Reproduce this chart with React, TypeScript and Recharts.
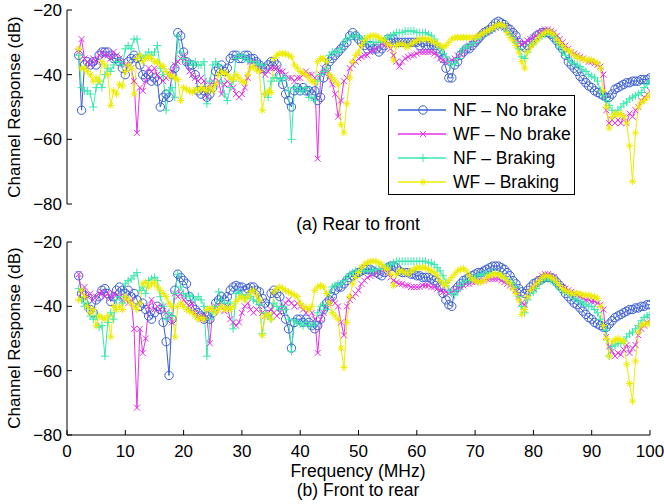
import { Line, LineChart, XAxis, YAxis } from "recharts";

// Frequency grid: 2 MHz to 100 MHz, 0.5 MHz step
const FREQ_START = 2;
const FREQ_STEP = 0.5;

const X_TICKS = [0, 10, 20, 30, 40, 50, 60, 70, 80, 90, 100];
const Y_TICKS = [-80, -60, -40, -20];

// (a) Rear to front
const rearNfNoBrake = [
  -34, -51, -37, -36, -37, -36, -37, -34, -33, -33, -33, -34, -35, -35, -36, -38,
  -40, -36, -35, -34, -35, -37, -40, -41, -40, -42, -41, -42, -50, -47, -46, -47, -40, -38, -27, -28,
  -33, -36, -37, -37, -40, -45, -46, -45, -47, -46, -44, -39, -38, -37, -39, -38, -35, -34, -34, -35,
  -35, -34, -34, -35, -35, -36, -37, -38, -38, -37, -36, -36, -37, -40, -43, -46, -48, -50, -45, -44,
  -45, -44, -45, -45, -46, -45, -48, -47, -41, -38, -36, -35, -34, -33, -32, -31, -30, -28, -27, -28,
  -29, -30, -31, -32, -31, -32, -32, -33, -32, -31, -29, -29, -29, -30, -30, -30, -30, -30, -30, -30,
  -30, -31, -30, -31, -31, -31, -31, -32, -33, -35, -38, -41, -41, -37, -36, -34, -33, -32, -32, -31,
  -30, -29, -28, -27, -26.5, -26, -25, -24, -23.5, -24, -24.5, -25.5, -26, -27, -28, -30, -31, -31.5, -31, -30,
  -29, -28, -27.5, -27, -27, -27, -27.5, -28.5, -29.5, -31, -32, -34, -36, -37, -38, -39, -40.5, -41.5, -42.5, -43.5,
  -44, -45, -45.5, -46, -46.5, -47, -47, -46, -44.5, -44, -43.5, -43, -42.5, -42.5, -42, -42, -42, -41.5, -41.5, -41.5,
  -41,
];
const rearWfNoBrake = [
  -33, -29, -35, -36, -37, -35, -36, -34, -33, -34, -34, -35, -33, -34, -35, -36,
  -37, -37, -38, -42, -58, -44, -45, -42, -38, -39, -38, -40, -41, -42, -41, -40, -39, -37, -36, -35,
  -34, -36, -39, -40, -41, -42, -41, -42, -47, -43, -42, -43, -42, -46, -43, -42, -43, -44, -46, -47,
  -46, -44, -41, -36, -36, -37, -38, -39, -40, -39, -38, -38, -38, -39, -39, -40, -41, -41, -42, -41,
  -41, -40, -39, -40, -40, -41, -66, -40, -38, -39, -41, -43, -46, -53, -48, -42, -41, -38, -37, -36,
  -35, -34.5, -34, -34, -33, -32.5, -32, -31, -30.5, -30.5, -31, -32, -34, -36, -37.5, -36, -35, -34.5, -34, -34,
  -33.5, -33, -33, -33, -33, -33, -33.5, -34, -35, -35.5, -36, -36, -35.5, -35, -34, -33.5, -33, -32, -31, -30.5,
  -30, -29, -28, -27.5, -27, -26.5, -26, -25.5, -25, -25, -25.5, -26, -27, -28, -29, -30, -30.5, -30, -29.5, -29,
  -28.5, -28, -27, -26.5, -26, -26, -26.5, -27, -28, -29, -30, -31, -32, -33, -33.5, -34, -34.5, -35, -35.5, -36,
  -36, -36.5, -37, -37.5, -40, -51, -55, -54, -55, -54, -55, -53, -55, -52, -53, -51, -50, -48, -47, -46,
  -45,
];
const rearNfBraking = [
  -34, -44, -45, -45, -46, -50, -44, -42, -44, -40, -38, -39, -37, -36, -36, -37,
  -32, -31, -32, -29, -29, -34, -35, -34, -33, -34, -33, -31, -38, -40, -51, -45, -44, -47, -28, -33,
  -35, -36, -36, -37, -36, -37, -37, -36, -49, -42, -37, -36, -37, -42, -46, -48, -44, -42, -35, -34,
  -34, -35, -35.5, -36, -36, -36.5, -37, -37, -46, -47, -42, -41, -41, -42, -41, -41, -45, -60, -44, -44,
  -45, -45, -44, -47, -47, -48, -42, -40, -39, -38, -34, -33, -33, -33, -32, -30, -29, -28.5, -28, -28,
  -28, -29, -29, -30, -30, -30, -30, -30, -29.5, -29, -28.5, -28, -27.5, -27, -27, -27, -26.5, -26.5, -26.5, -26.5,
  -27, -27, -27, -27, -27.5, -28, -29, -30.5, -32, -33.5, -34.5, -36, -37, -36.5, -35, -33, -32, -31.5, -31, -30.5,
  -30, -29, -28, -27.5, -27, -26.5, -26, -25.5, -25, -25, -25.5, -26.5, -27.5, -28.5, -30, -32, -34.5, -35, -33, -31,
  -30.5, -29.5, -28.5, -28, -27.5, -27, -27.5, -28.5, -30, -31.5, -33, -34, -35, -36, -36.5, -37, -37.5, -38.5, -39, -40,
  -40.5, -41, -42, -45, -46.5, -48, -49.5, -51, -52, -51, -50, -49, -48.5, -47.5, -47, -46.5, -46, -45.5, -44, -43,
  -42,
];
const rearWfBraking = [
  -32, -38, -38, -39, -40, -42, -41, -42, -36, -37, -40, -49.5, -45, -46, -43, -43.5,
  -39, -37, -38, -46, -35, -34, -36, -35, -34.5, -35, -36, -36, -37, -37.5, -39, -40, -40.5, -41, -41.5, -48,
  -44, -44.5, -45, -45.5, -44.5, -45, -44, -44.5, -45, -44, -45, -43, -40, -39, -39.5, -40, -41, -41.5, -40, -41,
  -42, -42.5, -40, -38, -37.5, -38.5, -39, -51, -46, -45, -45.5, -35, -34, -33.5, -33.5, -33.5, -34, -34.5, -37, -38,
  -39, -39.5, -40, -41, -42, -42.5, -36, -35, -35, -36, -40, -41, -42, -43, -55.5, -58, -49, -41, -36, -34,
  -33, -31, -29.5, -28.5, -28, -28, -28, -28.5, -29, -29.5, -30.5, -31, -35.5, -31, -30.5, -30.5, -31, -31.5, -30.5, -30,
  -29.5, -29, -29, -29, -29, -29.5, -30, -30.5, -31, -31.5, -31, -30, -29, -28.5, -28.5, -28.5, -28.5, -28.5, -28.5, -28.5,
  -28.5, -28, -27.5, -27, -26.5, -26, -25.5, -25, -24.5, -24.5, -25, -27, -28.5, -29.5, -31, -33, -36, -38, -33, -31.5,
  -30.5, -29.5, -28.5, -27.5, -27, -26.5, -27, -27.5, -29, -30, -31, -32, -32.5, -33, -34, -34.5, -35, -35, -35.5, -35.5,
  -35.5, -36, -36.5, -38, -45, -50, -56.5, -53, -52, -52.5, -52, -53, -55, -62, -73, -58, -50, -48.5, -48, -47,
  -46,
];

// (b) Front to rear
const frontNfNoBrake = [
  -30.5, -36, -36.5, -38, -41, -42, -38, -37, -35, -34.5, -36, -38.5, -37, -35, -34, -35,
  -36, -35, -37, -36, -38, -40, -39, -41, -43, -44, -42, -40, -41, -45, -51, -61.5, -44, -35, -30, -31,
  -32, -33, -37, -40, -41, -42, -43, -44, -43, -44, -42, -39, -38, -37, -38, -37, -35, -34, -33.5, -34,
  -34, -35, -34.5, -34, -34, -35, -35.5, -37.5, -39, -40, -36, -35, -36, -37, -41, -44, -47, -53, -45, -44,
  -44, -45, -44, -45, -46, -47, -46, -44, -41, -39, -38, -37, -35, -34, -34, -33, -32, -31, -30.5, -30,
  -29.5, -29, -28.5, -28.5, -28.5, -29, -29.5, -30, -30.5, -29.5, -28, -27.5, -27.5, -28, -29, -29.5, -29.5, -29.5, -30, -30,
  -30.5, -30.5, -31, -31, -31, -31.5, -32, -32.5, -34, -36, -38, -39.5, -40, -35, -34, -33, -32, -31.5, -31, -30.5,
  -30, -29.5, -29.5, -29, -28.5, -28, -27.5, -27.5, -27.5, -28, -28.5, -29.5, -30.5, -32, -33, -34.5, -35.5, -36, -35, -34,
  -33, -32.5, -32, -31.5, -31, -31, -31, -31.5, -32.5, -33.5, -34.5, -36, -37, -38, -39, -39.5, -40.5, -41.5, -42.5, -43.5,
  -44, -45, -45.5, -46, -46.5, -46.5, -45.5, -44.5, -43.5, -43, -42.5, -42, -41.5, -41, -41, -40.5, -40.5, -40, -40, -39.5,
  -39.5,
];
const frontWfNoBrake = [
  -30, -36, -34, -37, -36, -38, -37, -36, -35.5, -37, -36, -37.5, -36, -36.5, -37, -38,
  -37, -39, -38, -47, -71.5, -47, -54.5, -50, -40, -38, -41, -40, -41, -40, -42, -43, -45, -36, -37, -36,
  -38, -39, -40, -39, -42, -43, -44, -43, -44, -51.5, -41, -40, -41, -40, -41.5, -40, -44, -45, -46, -45,
  -42, -40, -39, -41, -42, -41, -40, -42, -43, -42, -41, -42, -43, -42, -40, -39, -38, -39, -40, -39,
  -40, -41, -42, -41, -42, -44, -54.5, -44, -42, -40, -39, -38, -39, -40, -45, -49, -40, -38, -37, -36,
  -35, -33, -32, -31, -30.5, -30, -29.5, -29, -28.5, -28.5, -29.5, -31, -32, -32.5, -33, -33, -33.5, -33.5, -34, -34,
  -34, -34, -33.5, -33.5, -33.5, -34, -34, -34.5, -35, -35.5, -35.5, -36, -35.5, -35, -34.5, -34, -33.5, -33, -33, -32.5,
  -32.5, -32, -32, -32, -31.5, -31.5, -31.5, -31.5, -31.5, -32, -32.5, -33, -33.5, -34, -35, -37, -39, -39.5, -37, -35.5,
  -34.5, -33, -31.5, -30.5, -30, -30, -30.5, -31, -32.5, -33.5, -34, -34.5, -35, -35.5, -36, -36.5, -37, -37.5, -38, -38,
  -38.5, -38.5, -39, -39.5, -41, -49.5, -52.5, -54, -55.5, -54.5, -55, -53.5, -52, -54.5, -53, -52, -49, -47, -46, -45,
  -44,
];
const frontNfBraking = [
  -34.5, -38, -40, -39, -43, -44, -43, -46.5, -46, -55.5, -45, -42, -44, -38, -37, -39,
  -33, -32, -31.5, -30.5, -29.5, -35, -34, -36, -32, -31.5, -31, -32, -37, -40, -44, -42, -43, -36, -30, -34,
  -36, -37, -36.5, -37, -38, -37, -38, -40, -55.5, -44, -42, -40, -35.5, -38, -39, -40, -39, -47, -36, -35.5,
  -36.5, -37.5, -36.5, -37, -38, -38.5, -39.5, -48.5, -42, -43, -44, -39, -40, -41, -40, -41, -44, -54, -44.5, -45,
  -45.5, -46, -45, -46, -46, -45.5, -42, -40, -39.5, -41, -36, -34, -33.5, -33, -33, -32, -31, -30, -29.5, -29,
  -29, -29, -29, -29, -29, -29, -28.5, -28.5, -28.5, -28, -27.5, -27, -26.5, -26, -26, -26, -26, -26, -26, -26,
  -26, -26, -26, -26, -26.5, -26.5, -27, -28, -29, -30.5, -32.5, -35, -36, -36.5, -35, -33.5, -32.5, -32, -32, -31.5,
  -31, -30.5, -30, -30, -30, -29.5, -29.5, -29.5, -30, -30.5, -31, -32, -32.5, -33, -34, -37, -40, -42, -38, -36,
  -35.5, -34.5, -33, -32, -31.5, -31.5, -32, -32.5, -33.5, -34.5, -35, -35.5, -36, -36.5, -37.5, -38, -38.5, -39, -39.5, -40,
  -40, -41, -42, -44, -46, -47.5, -55.5, -52.5, -52, -51.5, -51.5, -51, -49.5, -48.5, -48, -47, -46, -44.5, -43.5, -43,
  -42.5,
];
const frontWfBraking = [
  -38, -35, -37, -40, -42, -41, -46, -43, -43.5, -44, -43, -49.5, -40, -41, -40, -41,
  -37, -38, -39, -40, -41, -39, -33, -32.5, -34, -33, -32.5, -34, -35, -36, -37, -39, -40, -49.5, -40, -39,
  -40, -41, -41.5, -42, -43, -44, -43.5, -44, -41, -40.5, -41, -42, -41, -40, -41, -40.5, -41, -40, -38.5, -37.5,
  -37, -38, -37, -35.5, -35, -36.5, -38, -49, -43, -42.5, -44, -35.5, -34.5, -34, -34.5, -35, -35.5, -36, -36.5, -37,
  -39, -40, -40.5, -41, -40, -35, -34, -33.5, -34, -36, -39, -42, -43, -44, -53, -59, -45, -37, -33, -31,
  -29.5, -28, -27, -26.5, -26, -26, -26, -26.5, -27, -28, -28.5, -30, -33.5, -30, -29, -29, -29.5, -30, -29, -28.5,
  -28, -28, -28, -28, -28.5, -29, -29.5, -30.5, -32, -33, -33.5, -32, -31, -30, -29, -28.5, -28.3, -29, -30.5, -31.5,
  -32, -32.5, -32.5, -32, -31, -30.5, -30, -30, -30, -30.5, -31, -32, -33, -34.5, -36, -38, -42.5, -41, -37, -35,
  -34, -33, -32, -31, -30.5, -30.5, -31, -31.5, -32.5, -33.5, -34.5, -35, -35.5, -36, -36, -36, -36, -36.5, -36.5, -36.5,
  -37, -37, -37.5, -40, -46, -50, -55.5, -51, -50.5, -50, -50.5, -51, -58, -64, -69.5, -57, -48, -46, -45.5, -45.5,
  -45,
];

const freqs = rearNfNoBrake.map((_, i) => FREQ_START + i * FREQ_STEP);

type MarkerKind = "circle" | "x" | "plus" | "star";

const SERIES: { key: string; name: string; color: string; marker: MarkerKind }[] = [
  { key: "nfNo", name: "NF \u2013 No brake", color: "#3b5fd4", marker: "circle" },
  { key: "wfNo", name: "WF \u2013 No brake", color: "#e632e6", marker: "x" },
  { key: "nfBr", name: "NF \u2013 Braking", color: "#3ae8ad", marker: "plus" },
  { key: "wfBr", name: "WF \u2013 Braking", color: "#ecec00", marker: "star" },
];

const buildRows = (nfNo: number[], wfNo: number[], nfBr: number[], wfBr: number[]) =>
  freqs.map((f, i) => ({ f, nfNo: nfNo[i], wfNo: wfNo[i], nfBr: nfBr[i], wfBr: wfBr[i] }));

const rearRows = buildRows(rearNfNoBrake, rearWfNoBrake, rearNfBraking, rearWfBraking);
const frontRows = buildRows(frontNfNoBrake, frontWfNoBrake, frontNfBraking, frontWfBraking);

const FONT = "'Liberation Sans', Arial, Helvetica, sans-serif";
const minus = (v: number) => String(v).replace("-", "\u2212");

function Marker({ kind, cx, cy, color }: { kind: MarkerKind; cx: number; cy: number; color: string }) {
  if (kind === "circle") {
    return <circle cx={cx} cy={cy} r={4.2} fill="none" stroke={color} strokeWidth={1} />;
  }
  if (kind === "x") {
    const d = 3;
    return (
      <path
        d={`M${cx - d},${cy - d}L${cx + d},${cy + d}M${cx - d},${cy + d}L${cx + d},${cy - d}`}
        stroke={color}
        strokeWidth={1}
      />
    );
  }
  if (kind === "plus") {
    const d = 4;
    return <path d={`M${cx - d},${cy}L${cx + d},${cy}M${cx},${cy - d}L${cx},${cy + d}`} stroke={color} strokeWidth={1} />;
  }
  const d = 3.6;
  const e = 2.6;
  return (
    <path
      d={`M${cx - d},${cy}L${cx + d},${cy}M${cx},${cy - d}L${cx},${cy + d}M${cx - e},${cy - e}L${cx + e},${cy + e}M${cx - e},${cy + e}L${cx + e},${cy - e}`}
      stroke={color}
      strokeWidth={1}
    />
  );
}

const makeDot = (kind: MarkerKind, color: string) => (props: any) => {
  const { cx, cy, index } = props;
  if (cx == null || cy == null) return <g key={`none-${index}`} />;
  return <Marker key={`dot-${index}`} kind={kind} cx={cx} cy={cy} color={color} />;
};

const TICK_LEN = 5;

function BottomTick({ x, y, payload, showLabel }: any) {
  return (
    <g>
      <line x1={x} y1={y} x2={x} y2={y - TICK_LEN} stroke="#000" />
      {showLabel ? (
        <text x={x} y={y + 22} textAnchor="middle" fontSize={17} fill="#000" fontFamily={FONT}>
          {payload.value}
        </text>
      ) : null}
    </g>
  );
}

function TopTick({ x, y }: any) {
  return <line x1={x} y1={y} x2={x} y2={y + TICK_LEN} stroke="#000" />;
}

function LeftTick({ x, y, payload }: any) {
  return (
    <g>
      <line x1={x} y1={y} x2={x + TICK_LEN} y2={y} stroke="#000" />
      <text x={x - 5} y={y + 6} textAnchor="end" fontSize={17} fill="#000" fontFamily={FONT}>
        {minus(payload.value)}
      </text>
    </g>
  );
}

function RightTick({ x, y }: any) {
  return <line x1={x} y1={y} x2={x - TICK_LEN} y2={y} stroke="#000" />;
}

function Panel({ data, top, height, showXLabels }: { data: any[]; top: number; height: number; showXLabels: boolean }) {
  return (
    <div style={{ position: "absolute", left: 0, top }}>
      <LineChart
        width={664}
        height={height}
        data={data}
        margin={{ top: 10, right: 14, bottom: showXLabels ? 0 : 16, left: 0 }}
      >
        <XAxis
          xAxisId="b"
          dataKey="f"
          type="number"
          domain={[0, 100]}
          ticks={X_TICKS}
          interval={0}
          allowDataOverflow
          height={showXLabels ? 25 : 0}
          tickSize={0}
          tickMargin={0}
          tickLine={false}
          axisLine={{ stroke: "#000" }}
          tick={(p: any) => <BottomTick {...p} showLabel={showXLabels} />}
        />
        <XAxis
          xAxisId="t"
          orientation="top"
          dataKey="f"
          type="number"
          domain={[0, 100]}
          ticks={X_TICKS}
          interval={0}
          allowDataOverflow
          height={0}
          tickSize={0}
          tickMargin={0}
          tickLine={false}
          axisLine={{ stroke: "#000" }}
          tick={TopTick}
        />
        <YAxis
          yAxisId="l"
          type="number"
          domain={[-80, -20]}
          ticks={Y_TICKS}
          interval={0}
          allowDataOverflow
          width={67}
          tickSize={0}
          tickMargin={0}
          tickLine={false}
          axisLine={{ stroke: "#000" }}
          tick={LeftTick}
        />
        <YAxis
          yAxisId="r"
          orientation="right"
          type="number"
          domain={[-80, -20]}
          ticks={Y_TICKS}
          interval={0}
          allowDataOverflow
          width={0}
          tickSize={0}
          tickMargin={0}
          tickLine={false}
          axisLine={{ stroke: "#000" }}
          tick={RightTick}
        />
        {SERIES.map((s) => (
          <Line
            key={s.key}
            xAxisId="b"
            yAxisId="l"
            type="linear"
            dataKey={s.key}
            name={s.name}
            stroke={s.color}
            strokeWidth={1}
            dot={makeDot(s.marker, s.color)}
            activeDot={false}
            isAnimationActive={false}
          />
        ))}
      </LineChart>
    </div>
  );
}

function LegendBox() {
  return (
    <div
      style={{
        position: "absolute",
        left: 388,
        top: 95,
        width: 187,
        height: 100,
        boxSizing: "border-box",
        border: "1px solid #000",
        background: "#fff",
        paddingTop: 2,
      }}
    >
      {SERIES.map((s) => (
        <div key={s.key} style={{ display: "flex", alignItems: "center", height: 24 }}>
          <svg width={60} height={24} style={{ flex: "none" }}>
            <line x1={9} y1={12} x2={57} y2={12} stroke={s.color} strokeWidth={1.5} />
            <Marker kind={s.marker} cx={34} cy={12} color={s.color} />
          </svg>
          <span style={{ fontSize: 17.5, marginLeft: 4, whiteSpace: "nowrap" }}>{s.name}</span>
        </div>
      ))}
    </div>
  );
}

const centered = (left: number, top: number, size: number, rotate = false): React.CSSProperties => ({
  position: "absolute",
  left,
  top,
  transform: `translate(-50%, -50%)${rotate ? " rotate(-90deg)" : ""}`,
  whiteSpace: "nowrap",
  fontSize: size,
  lineHeight: `${size}px`,
});

export default function App() {
  return (
    <div
      style={{
        position: "absolute",
        left: 0,
        top: 0,
        width: 664,
        height: 504,
        background: "#fff",
        color: "#000",
        fontFamily: FONT,
        overflow: "hidden",
      }}
    >
      <Panel data={rearRows} top={0} height={220} showXLabels={false} />
      <Panel data={frontRows} top={232} height={228} showXLabels />
      <LegendBox />
      <div style={centered(14, 107, 17, true)}>Channel Response (dB)</div>
      <div style={centered(14, 338, 17, true)}>Channel Response (dB)</div>
      <div style={centered(358, 225, 17.5)}>(a) Rear to front</div>
      <div style={centered(358, 472, 17.5)}>Frequency (MHz)</div>
      <div style={centered(358, 490.5, 17.5)}>(b) Front to rear</div>
    </div>
  );
}
